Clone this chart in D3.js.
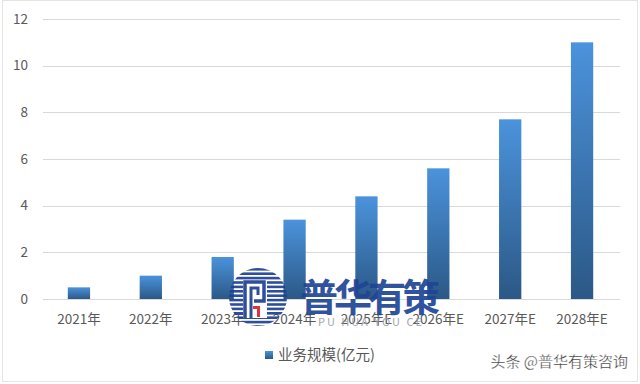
<!DOCTYPE html>
<html><head><meta charset="utf-8">
<script src="https://cdn.jsdelivr.net/npm/d3@7/dist/d3.min.js"></script>
<style>html,body{margin:0;padding:0;background:#fff;}svg{display:block;}</style>
</head><body>
<script>
const categories = ["2021年","2022年","2023年","2024年","2025年E","2026年E","2027年E","2028年E"];
const values = [0.5, 1.0, 1.8, 3.4, 4.4, 5.6, 7.7, 11.0];
const yTicks = [0, 2, 4, 6, 8, 10, 12];
const seriesName = "业务规模(亿元)";
const watermark = "普华有策";
const watermarkSub = "PU HUA YOU CE";
const credit = "头条 @普华有策咨询";

const W = 640, H = 384;
const svg = d3.select("body").append("svg").attr("width", W).attr("height", H);
const font = "'Microsoft YaHei','Noto Sans CJK SC','Noto Sans',sans-serif";

const defs = svg.append("defs");
const grad = defs.append("linearGradient").attr("id","barGrad").attr("x1",0).attr("y1",0).attr("x2",0).attr("y2",1);
grad.append("stop").attr("offset","0%").attr("stop-color","#4b93dc");
grad.append("stop").attr("offset","100%").attr("stop-color","#2b5886");

svg.append("rect").attr("x",2.5).attr("y",0.5).attr("width",635).attr("height",381)
  .attr("fill","#fff").attr("stroke","#e4e4e4");

const x = d3.scaleBand().domain(categories).range([43, 618]).paddingInner(0.69).paddingOuter(0.345);
const y = d3.scaleLinear().domain([0, 12]).range([299, 19]);

// gridlines
svg.append("g").selectAll("line").data(yTicks).join("line")
  .attr("x1", 43).attr("x2", 620)
  .attr("y1", d => Math.round(y(d)) + 0.5).attr("y2", d => Math.round(y(d)) + 0.5)
  .attr("stroke", "#d9d9d9").attr("stroke-width", 1);

// y axis labels
const yAxis = d3.axisLeft(y).tickValues(yTicks).tickSize(0).tickPadding(0);
const gy = svg.append("g").attr("transform", "translate(28,0)").call(yAxis);
gy.select(".domain").remove();
gy.selectAll("text").attr("font-family", font).attr("font-size", 13.5).attr("fill", "#595959");

// bars
svg.append("g").selectAll("rect").data(values).join("rect")
  .attr("x", (d, i) => x(categories[i]))
  .attr("width", x.bandwidth())
  .attr("y", d => y(d))
  .attr("height", d => y(0) - y(d))
  .attr("fill", "url(#barGrad)");

// x axis labels
const xAxis = d3.axisBottom(x).tickSize(0).tickPadding(0);
const gx = svg.append("g").attr("transform", "translate(0,314)").call(xAxis);
gx.select(".domain").remove();
gx.selectAll("text").attr("font-family", font).attr("font-size", 13.5).attr("fill", "#595959");

// legend
const lg = svg.append("g").attr("transform", "translate(265,355)");
lg.append("rect").attr("x", 0).attr("y", -4).attr("width", 8).attr("height", 8).attr("fill", "url(#barGrad)");
lg.append("text").attr("x", 13).attr("y", 0).attr("dy", "0.36em")
  .attr("font-family", font).attr("font-size", 14.5).attr("fill", "#595959").text(seriesName);

// watermark logo
const wm = svg.append("g").attr("opacity", 0.92);
const cx = 258, cy = 297, r = 29;
defs.append("clipPath").attr("id","logoClip").append("circle").attr("cx",cx).attr("cy",cy).attr("r",r);
const stripes = wm.append("g").attr("clip-path","url(#logoClip)");
d3.range(-r, r, 4.4).forEach(o => {
  stripes.append("rect").attr("x", cx - r).attr("y", cy + o).attr("width", 2 * r).attr("height", 2.6).attr("fill", "#1d3f94");
});
wm.append("rect").attr("x", cx - 15).attr("y", cy - 17).attr("width", 24).attr("height", 38).attr("fill", "#fff");
wm.append("path").attr("d", `M${cx-13},${cy+22} L${cx-13},${cy-15} L${cx+6},${cy-15} L${cx+6},${cy+4} L${cx-4},${cy+4}`)
  .attr("fill","none").attr("stroke","#1d3f94").attr("stroke-width",3.5);
wm.append("path").attr("d", `M${cx-7},${cy+22} L${cx-7},${cy-9} L${cx},${cy-9} L${cx},${cy-2}`)
  .attr("fill","none").attr("stroke","#1d3f94").attr("stroke-width",3);
wm.append("rect").attr("x", cx - 1).attr("y", cy + 9).attr("width", 3).attr("height", 11).attr("fill", "#d6262b");
wm.append("rect").attr("x", cx - 5).attr("y", cy + 9).attr("width", 6).attr("height", 3).attr("fill", "#d6262b");
wm.append("text").attr("x", 300).attr("y", cy).attr("dy", "0.36em")
  .attr("font-family", font).attr("font-weight", "bold").attr("font-size", 38)
  .attr("fill", "#1f4596").attr("textLength", 140).text(watermark);
wm.append("text").attr("x", 318).attr("y", 322).attr("dy", "0.36em")
  .attr("font-family", font).attr("font-size", 11).attr("fill", "#9aa0a8")
  .attr("letter-spacing", 2).text(watermarkSub);

// credit
svg.append("text").attr("x", 628).attr("y", 362).attr("text-anchor", "end").attr("dy", "0.36em")
  .attr("font-family", font).attr("font-size", 15).attr("fill", "#333")
  .attr("stroke", "#fff").attr("stroke-width", 0.3).text(credit);
</script>
</body></html>
